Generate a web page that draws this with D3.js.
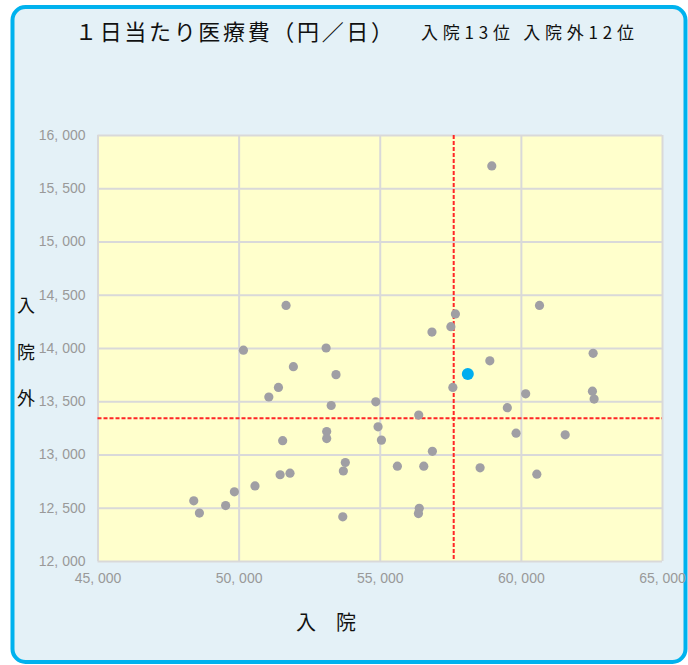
<!DOCTYPE html>
<html>
<head>
<meta charset="utf-8">
<script src="https://cdn.jsdelivr.net/npm/d3@7"></script>
<style>
  body { margin: 0; background: #ffffff; }
  svg { display: block; }
</style>
</head>
<body>
<script>
// 入院 (x) と 入院外 (y) の1日当たり医療費
var inpatient = [51680, 58970, 60660, 57680, 57520, 56850, 50170, 53100, 51940, 53450,
                 51410, 51070, 53280, 53120, 53120, 51560, 51820, 51470, 50580, 49850,
                 48410, 49540, 48610, 53690, 53710, 53780, 62560, 58900, 57590, 60170,
                 62535, 62595, 54860, 59520, 56380, 54940, 59830, 61570, 55060, 56865,
                 55625, 56560, 58555, 60565, 56400, 56370];
var outpatient = [14400, 15710, 14400, 14320, 14200, 14150, 13980, 14000, 13825, 13750,
                  13630, 13540, 13460, 13215, 13150, 13130, 12825, 12810, 12705, 12650,
                  12565, 12520, 12450, 12415, 12845, 12925, 13950, 13880, 13630, 13570,
                  13595, 13520, 13495, 13440, 13370, 13260, 13200, 13185, 13135, 13030,
                  12890, 12890, 12875, 12815, 12495, 12445];
var highlight = [58120, 13755];
var avgIn = 57620;
var avgOut = 13340;

var xTicks = [45000, 50000, 55000, 60000, 65000];
var yTicks = [12000, 12500, 13000, 13500, 14000, 14500, 15000, 15500, 16000];

var title = "１日当たり医療費（円／日）";
var subtitle = "入院13位 入院外12位";
var xLabel = "入　院";
var yLabel = ["入", "院", "外"];

var W = 688, H = 665;
var pL = 97.5, pR = 662, pT = 135, pB = 561;

var svg = d3.select("body").append("svg")
    .attr("width", W)
    .attr("height", H);

// card
svg.append("rect")
    .attr("x", 12.5).attr("y", 7)
    .attr("width", 673).attr("height", 655)
    .attr("rx", 13).attr("ry", 13)
    .attr("fill", "#e4f1f7")
    .attr("stroke", "#00b2ee")
    .attr("stroke-width", 4);

var x = d3.scaleLinear().domain([45000, 65000]).range([pL, pR]);
var y = d3.scaleLinear().domain([12000, 16000]).range([pB, pT]);

var fmt = function(d) { return d3.format(",")(d).replace(",", ", "); };

// plot area
svg.append("rect")
    .attr("x", pL).attr("y", pT)
    .attr("width", pR - pL).attr("height", pB - pT)
    .attr("fill", "#ffffcc");

// grid
svg.append("g")
    .attr("transform", "translate(0," + pB + ")")
    .call(d3.axisBottom(x).tickValues(xTicks).tickSize(-(pB - pT)).tickFormat(""))
    .call(function(g) {
        g.select(".domain").remove();
        g.selectAll("line").attr("stroke", "#d9d9d9").attr("stroke-width", 2);
    });
svg.append("g")
    .attr("transform", "translate(" + pL + ",0)")
    .call(d3.axisLeft(y).tickValues(yTicks).tickSize(-(pR - pL)).tickFormat(""))
    .call(function(g) {
        g.select(".domain").remove();
        g.selectAll("line").attr("stroke", "#d9d9d9").attr("stroke-width", 2);
    });

// tick labels
svg.append("g")
    .attr("transform", "translate(0," + pB + ")")
    .call(d3.axisBottom(x).tickValues(xTicks).tickSize(0).tickPadding(12).tickFormat(fmt))
    .call(function(g) {
        g.select(".domain").remove();
        g.selectAll("text")
            .attr("fill", "#999999")
            .style("font-family", "Liberation Sans, Arial, sans-serif")
            .style("font-size", "14px");
    });
svg.append("g")
    .attr("transform", "translate(" + pL + ",0)")
    .call(d3.axisLeft(y).tickValues(yTicks).tickSize(0).tickPadding(12).tickFormat(fmt))
    .call(function(g) {
        g.select(".domain").remove();
        g.selectAll("text")
            .attr("fill", "#999999")
            .style("font-family", "Liberation Sans, Arial, sans-serif")
            .style("font-size", "14px");
    });

// average lines
svg.append("line")
    .attr("x1", x(avgIn)).attr("x2", x(avgIn))
    .attr("y1", pT).attr("y2", pB)
    .attr("stroke", "#ff2626").attr("stroke-width", 2)
    .attr("stroke-dasharray", "4,2");
svg.append("line")
    .attr("x1", pL).attr("x2", pR)
    .attr("y1", y(avgOut)).attr("y2", y(avgOut))
    .attr("stroke", "#ff2626").attr("stroke-width", 2)
    .attr("stroke-dasharray", "4,2");

// points
svg.append("g").selectAll("circle")
    .data(d3.zip(inpatient, outpatient))
    .join("circle")
    .attr("cx", function(d) { return x(d[0]); })
    .attr("cy", function(d) { return y(d[1]); })
    .attr("r", 4.6)
    .attr("fill", "#a09fa4");

svg.append("circle")
    .attr("cx", x(highlight[0]))
    .attr("cy", y(highlight[1]))
    .attr("r", 6)
    .attr("fill", "#00aeef");

// titles
var cjk = "'Noto Sans CJK JP', 'Noto Sans', sans-serif";
svg.append("text")
    .attr("x", 75).attr("y", 40)
    .attr("textLength", 318).attr("lengthAdjust", "spacing")
    .style("font-family", cjk).style("font-size", "22px")
    .attr("fill", "#111")
    .text(title);
svg.append("text")
    .attr("x", 421).attr("y", 39)
    .attr("textLength", 213).attr("lengthAdjust", "spacing")
    .style("font-family", cjk).style("font-size", "17px")
    .attr("fill", "#111")
    .text(subtitle);

svg.append("text")
    .attr("x", 326).attr("y", 630)
    .attr("text-anchor", "middle")
    .style("font-family", cjk).style("font-size", "20px")
    .attr("fill", "#111")
    .text(xLabel);

svg.selectAll(".ylab")
    .data(yLabel)
    .join("text")
    .attr("class", "ylab")
    .attr("x", 26)
    .attr("y", function(d, i) { return 312 + i * 46.5; })
    .attr("text-anchor", "middle")
    .style("font-family", cjk).style("font-size", "18px")
    .attr("fill", "#111")
    .text(function(d) { return d; });
</script>
</body>
</html>
